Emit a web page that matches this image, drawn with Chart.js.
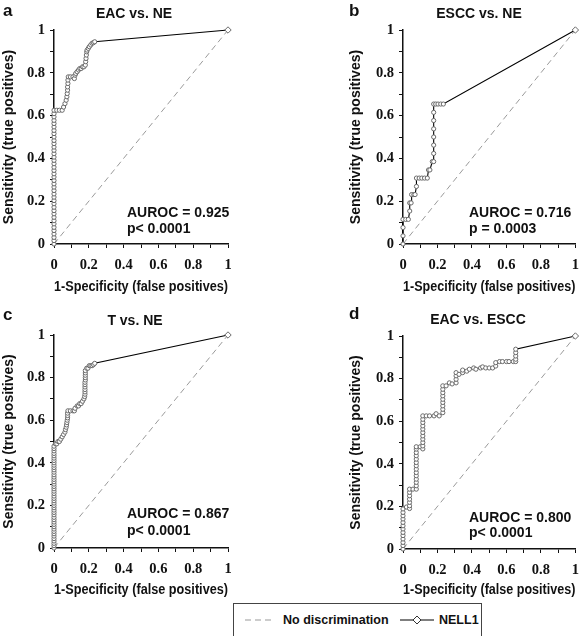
<!DOCTYPE html>
<html>
<head>
<meta charset="utf-8">
<script src="https://cdn.jsdelivr.net/npm/chart.js@4.4.1/dist/chart.umd.min.js"></script>
<style>
  body { margin: 0; background: #fff; }
  #page { position: relative; width: 588px; height: 636px; overflow: hidden; font-family: "Liberation Sans", Arial, sans-serif; }
  canvas { position: absolute; }
  .txt { position: absolute; font-weight: bold; font-size: 14px; line-height: 14px; white-space: nowrap; color: #111; }
  .letter { font-size: 17px; line-height: 17px; }
  .title { transform: translateX(-50%); }
  #legend { position: absolute; left: 233px; top: 603px; width: 249px; height: 40px; border: 1px solid #444; box-sizing: border-box; }
  #legend svg { position: absolute; }
  #legend .txt { font-size: 12.5px; }
</style>
</head>
<body>
<div id="page">
  <canvas id="chartA" width="294" height="300" style="left:0;top:0"></canvas>
  <canvas id="chartB" width="241" height="300" style="left:347px;top:0"></canvas>
  <canvas id="chartC" width="294" height="300" style="left:0;top:300px"></canvas>
  <canvas id="chartD" width="241" height="300" style="left:347px;top:300px"></canvas>

  <div class="txt letter" style="left:3px;top:2px">a</div>
  <div class="txt letter" style="left:349px;top:2px">b</div>
  <div class="txt letter" style="left:3px;top:306px">c</div>
  <div class="txt letter" style="left:349px;top:305px">d</div>

  <div class="txt title" style="left:134px;top:6px">EAC vs. NE</div>
  <div class="txt title" style="left:479px;top:6px">ESCC vs. NE</div>
  <div class="txt title" style="left:135px;top:313px">T vs. NE</div>
  <div class="txt title" style="left:478px;top:312px">EAC vs. ESCC</div>

  <div class="txt" style="left:127px;top:205px">AUROC = 0.925</div>
  <div class="txt" style="left:127px;top:221px">p&lt; 0.0001</div>
  <div class="txt" style="left:469px;top:205px">AUROC = 0.716</div>
  <div class="txt" style="left:469px;top:221px">p = 0.0003</div>
  <div class="txt" style="left:127px;top:506px">AUROC = 0.867</div>
  <div class="txt" style="left:127px;top:523px">p&lt; 0.0001</div>
  <div class="txt" style="left:469px;top:510px">AUROC = 0.800</div>
  <div class="txt" style="left:469px;top:525px">p&lt; 0.0001</div>

  <div id="legend">
    <svg width="28" height="10" style="left:11px;top:11px"><line x1="0" y1="5" x2="28" y2="5" stroke="#999" stroke-width="1.2" stroke-dasharray="6,4"/></svg>
    <div class="txt" style="left:49px;top:9px">No discrimination</div>
    <svg width="34" height="10" style="left:166px;top:11px"><line x1="0" y1="5" x2="34" y2="5" stroke="#000" stroke-width="1.2"/><path d="M17 1 L21 5 L17 9 L13 5 Z" fill="#fff" stroke="#333" stroke-width="1"/></svg>
    <div class="txt" style="left:205px;top:9px">NELL1</div>
  </div>
</div>

<script>
// (1-specificity, sensitivity) pairs
const eacVsNe = [
  [0,0],[0,0.016],[0,0.031],[0,0.047],[0,0.063],[0,0.078],[0,0.094],[0,0.109],[0,0.125],[0,0.141],
  [0,0.156],[0,0.172],[0,0.188],[0,0.203],[0,0.219],[0,0.234],[0,0.25],[0,0.266],[0,0.281],[0,0.297],
  [0,0.313],[0,0.328],[0,0.344],[0,0.359],[0,0.375],[0,0.391],[0,0.406],[0,0.422],[0,0.438],[0,0.453],
  [0,0.469],[0,0.484],[0,0.5],[0,0.516],[0,0.531],[0,0.547],[0,0.563],[0,0.578],[0,0.594],[0,0.609],
  [0,0.625],[0.016,0.625],[0.031,0.625],[0.047,0.625],[0.055,0.64],[0.063,0.656],[0.07,0.672],
  [0.074,0.688],[0.076,0.703],[0.078,0.719],[0.078,0.734],[0.08,0.75],[0.08,0.766],[0.082,0.781],
  [0.094,0.781],[0.109,0.781],[0.117,0.773],[0.121,0.789],[0.125,0.797],[0.133,0.805],[0.141,0.813],
  [0.148,0.82],[0.156,0.82],[0.164,0.828],[0.172,0.828],[0.18,0.836],[0.182,0.852],[0.184,0.867],
  [0.186,0.883],[0.188,0.898],[0.19,0.906],[0.197,0.914],[0.203,0.922],[0.211,0.93],[0.219,0.938],
  [0.227,0.941],[0.234,0.945],[1,1]
];

const esccVsNe = [
  [0,0],[0,0.038],[0,0.077],[0,0.115],[0.016,0.115],[0.031,0.115],[0.039,0.154],[0.039,0.192],
  [0.047,0.192],[0.05,0.231],[0.063,0.231],[0.07,0.231],[0.078,0.269],[0.078,0.308],[0.094,0.308],
  [0.109,0.308],[0.125,0.308],[0.141,0.308],[0.148,0.346],[0.156,0.346],[0.17,0.385],[0.178,0.385],
  [0.178,0.423],[0.178,0.462],[0.178,0.5],[0.178,0.538],[0.178,0.577],[0.178,0.615],[0.178,0.654],
  [0.19,0.654],[0.203,0.654],[0.219,0.654],[0.234,0.654],[1,1]
];

const tVsNe = [
  [0,0],[0,0.011],[0,0.022],[0,0.033],[0,0.044],[0,0.056],[0,0.067],[0,0.078],[0,0.089],[0,0.1],
  [0,0.111],[0,0.122],[0,0.133],[0,0.144],[0,0.156],[0,0.167],[0,0.178],[0,0.189],[0,0.2],[0,0.211],
  [0,0.222],[0,0.233],[0,0.244],[0,0.256],[0,0.267],[0,0.278],[0,0.289],[0,0.3],[0,0.311],[0,0.322],
  [0,0.333],[0,0.344],[0,0.356],[0,0.367],[0,0.378],[0,0.389],[0,0.4],[0,0.411],[0,0.422],[0,0.433],
  [0,0.444],[0,0.456],[0,0.467],[0,0.478],[0.008,0.489],[0.016,0.489],[0.023,0.5],[0.031,0.5],
  [0.039,0.511],[0.047,0.522],[0.055,0.533],[0.063,0.544],[0.066,0.556],[0.07,0.567],[0.072,0.578],
  [0.074,0.589],[0.076,0.6],[0.078,0.611],[0.078,0.622],[0.078,0.633],[0.08,0.644],[0.094,0.644],
  [0.109,0.644],[0.117,0.644],[0.121,0.656],[0.133,0.667],[0.141,0.667],[0.148,0.678],[0.156,0.678],
  [0.164,0.689],[0.172,0.7],[0.176,0.711],[0.178,0.722],[0.178,0.733],[0.178,0.744],[0.178,0.756],
  [0.178,0.767],[0.178,0.778],[0.18,0.789],[0.18,0.8],[0.18,0.811],[0.18,0.822],[0.18,0.833],
  [0.188,0.844],[0.195,0.844],[0.203,0.856],[0.211,0.856],[0.219,0.856],[0.227,0.861],[0.234,0.867],
  [1,1]
];

const eacVsEscc = [
  [0,0],[0,0.016],[0,0.031],[0,0.047],[0,0.063],[0,0.078],[0,0.094],[0,0.109],[0,0.125],[0,0.141],
  [0,0.156],[0,0.172],[0,0.188],[0.02,0.197],[0.038,0.19],[0.038,0.203],[0.038,0.219],[0.038,0.234],
  [0.038,0.25],[0.038,0.266],[0.038,0.281],[0.058,0.281],[0.077,0.281],[0.077,0.297],[0.077,0.313],
  [0.077,0.328],[0.077,0.344],[0.077,0.359],[0.077,0.375],[0.077,0.391],[0.077,0.406],[0.077,0.422],
  [0.077,0.438],[0.077,0.453],[0.077,0.469],[0.077,0.48],[0.1,0.48],[0.115,0.47],[0.115,0.484],
  [0.115,0.5],[0.115,0.516],[0.115,0.531],[0.115,0.547],[0.115,0.563],[0.115,0.578],[0.115,0.594],
  [0.115,0.609],[0.115,0.625],[0.135,0.625],[0.154,0.625],[0.18,0.625],[0.192,0.635],[0.21,0.625],
  [0.231,0.64],[0.231,0.656],[0.231,0.672],[0.231,0.688],[0.231,0.703],[0.231,0.719],[0.231,0.734],
  [0.231,0.75],[0.231,0.766],[0.25,0.766],[0.269,0.78],[0.285,0.775],[0.308,0.78],[0.308,0.797],
  [0.308,0.813],[0.308,0.828],[0.325,0.82],[0.346,0.828],[0.346,0.84],[0.37,0.835],[0.385,0.844],
  [0.41,0.85],[0.423,0.844],[0.45,0.85],[0.462,0.855],[0.48,0.85],[0.5,0.85],[0.52,0.85],
  [0.538,0.859],[0.538,0.875],[0.56,0.88],[0.577,0.88],[0.6,0.88],[0.615,0.88],[0.64,0.88],
  [0.654,0.88],[0.654,0.891],[0.654,0.906],[0.654,0.922],[0.654,0.938],[1,1]
];

const chanceLine = [[0,0],[1,1]];
const axisTicks = [0, 0.2, 0.4, 0.6, 0.8, 1];
const xTitle = "1-Specificity (false positives)";
const yTitle = "Sensitivity (true positives)";

function tickLabel(v) {
  const r = Math.round(v * 10) / 10;
  return axisTicks.includes(r) ? String(r) : "";
}

function axis(titleText, size, titlePad, isX) {
  return {
    type: "linear",
    min: 0,
    max: 1,
    border: { color: "#111", width: 1.5 },
    grid: { drawOnChartArea: false, tickLength: 4, tickColor: "#111", tickWidth: 1 },
    ticks: {
      stepSize: 0.1,
      autoSkip: false,
      maxRotation: 0,
      padding: isX ? 9 : 5,
      color: "#111",
      font: { family: "Liberation Serif", weight: "bold", size: 14.5 },
      callback: tickLabel,
    },
    title: {
      display: true,
      text: titleText,
      color: "#111",
      padding: titlePad,
      font: { family: "Liberation Sans", weight: "bold", size: 14 },
    },
    afterFit(scale) {
      if (isX) scale.height = size; else scale.width = size;
    },
  };
}

function drawPanel(id, points, yWidth, xHeight, pad, xTitlePad) {
  const n = points.length;
  new Chart(document.getElementById(id).getContext("2d"), {
    type: "scatter",
    data: {
      datasets: [
        {
          data: points.map(p => ({ x: p[0], y: p[1] })),
          showLine: true,
          borderColor: "#000",
          borderWidth: 1.1,
          pointStyle: points.map((p, i) => (i === n - 1 ? "rectRot" : "circle")),
          pointRadius: points.map((p, i) => (i === n - 1 ? 3.2 : 2.1)),
          pointBackgroundColor: "#fff",
          pointBorderColor: "#6a6a6a",
          pointBorderWidth: 1,
          clip: false,
        },
        {
          data: chanceLine.map(p => ({ x: p[0], y: p[1] })),
          showLine: true,
          borderColor: "#9a9a9a",
          borderWidth: 1,
          borderDash: [6, 4],
          pointRadius: 0,
        },
      ],
    },
    options: {
      responsive: false,
      animation: false,
      events: [],
      layout: { padding: pad },
      plugins: { legend: { display: false }, tooltip: { enabled: false } },
      scales: {
        x: axis(xTitle, xHeight, { top: 0, bottom: xTitlePad }, true),
        y: axis(yTitle, yWidth, { top: 1, bottom: 0 }, false),
      },
    },
  });
}

drawPanel("chartA", eacVsNe, 54, 56, { top: 30, right: 66, bottom: 0, left: 0 }, 4.6);
drawPanel("chartB", esccVsNe, 56, 56, { top: 30, right: 11, bottom: 0, left: 0 }, 4.6);
drawPanel("chartC", tVsNe, 54, 52, { top: 35, right: 66, bottom: 0, left: 0 }, 1.6);
drawPanel("chartD", eacVsEscc, 56, 51, { top: 36, right: 11, bottom: 0, left: 0 }, 1.6);
</script>
</body>
</html>
